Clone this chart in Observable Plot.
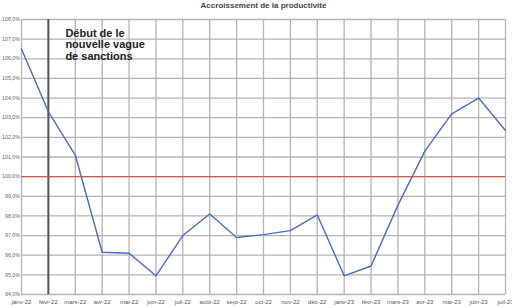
<!DOCTYPE html>
<html><head><meta charset="utf-8">
<script src="https://cdn.jsdelivr.net/npm/d3@7"></script>
<script src="https://cdn.jsdelivr.net/npm/@observablehq/plot@0.6"></script>
<style>body{margin:0;background:#fff;font-family:"Liberation Sans",Arial,sans-serif}</style>
</head><body><div id="chart"></div>
<script>
const title = "Accroissement de la productivité";
const months = ["janv-22","févr-22","mars-22","avr-22","mai-22","juin-22","juil-22","août-22","sept-22","oct-22","nov-22","déc-22","janv-23","févr-23","mars-23","avr-23","mai-23","juin-23","juil-23"];
const values = [106.5,103.3,101.1,96.15,96.1,94.95,97.0,98.1,96.9,97.05,97.25,98.05,94.95,95.45,98.55,101.3,103.2,104.0,102.35];
const yTicks = [94,95,96,97,98,99,100,101,102,103,104,105,106,107,108];
const refLine = [100];
const eventMonth = ["févr-22"];
const annotation = ["Début de le\nnouvelle vague\nde sanctions"];

const data = months.map((m,i)=>({month:m, value:values[i]}));
const fmt = d => d.toFixed(1).replace(".", ",") + "%";

const chart = Plot.plot({
  width: 512, height: 308,
  marginLeft: 21, marginRight: 7, marginTop: 19, marginBottom: 14,
  style: {fontFamily: "'Liberation Sans', Arial, sans-serif", background: "#fff"},
  x: {type: "point", domain: months, padding: 0, round: false, range: [21, 505], label: null},
  y: {domain: [94,108], range: [294, 19], label: null},
  marks: [
    Plot.gridX(months, {stroke: "#b4b4b4", strokeOpacity: 1, strokeWidth: 1.3}),
    Plot.gridY(yTicks, {stroke: "#b4b4b4", strokeOpacity: 1, strokeWidth: 1.3}),
    Plot.ruleX(eventMonth, {stroke: "#555", strokeWidth: 2}),
    Plot.ruleY(refLine, {stroke: "#d9534f", strokeWidth: 1.3}),
    Plot.axisY(yTicks, {tickSize: 0, tickPadding: 1.5, tickFormat: fmt, fontSize: 5.3, fill: "#666", label: null}),
    Plot.axisX(months, {tickSize: 0, tickPadding: 5, fontSize: 6, fill: "#555", label: null}),
    Plot.lineY(data, {x: "month", y: "value", stroke: "#4a6cc0", strokeWidth: 1.4}),
    Plot.text(annotation, {x: () => "févr-22", y: () => 107.55, dx: 17, text: d => d, textAnchor: "start", lineAnchor: "top", fontSize: 11, fontWeight: "bold", fill: "#222", lineHeight: 1.05}),
    Plot.text([title], {frameAnchor: "top", dy: -17, text: d => d, fontSize: 8, fontWeight: "bold", fill: "#444", lineAnchor: "top"})
  ]
});
document.getElementById("chart").appendChild(chart);
</script></body></html>
